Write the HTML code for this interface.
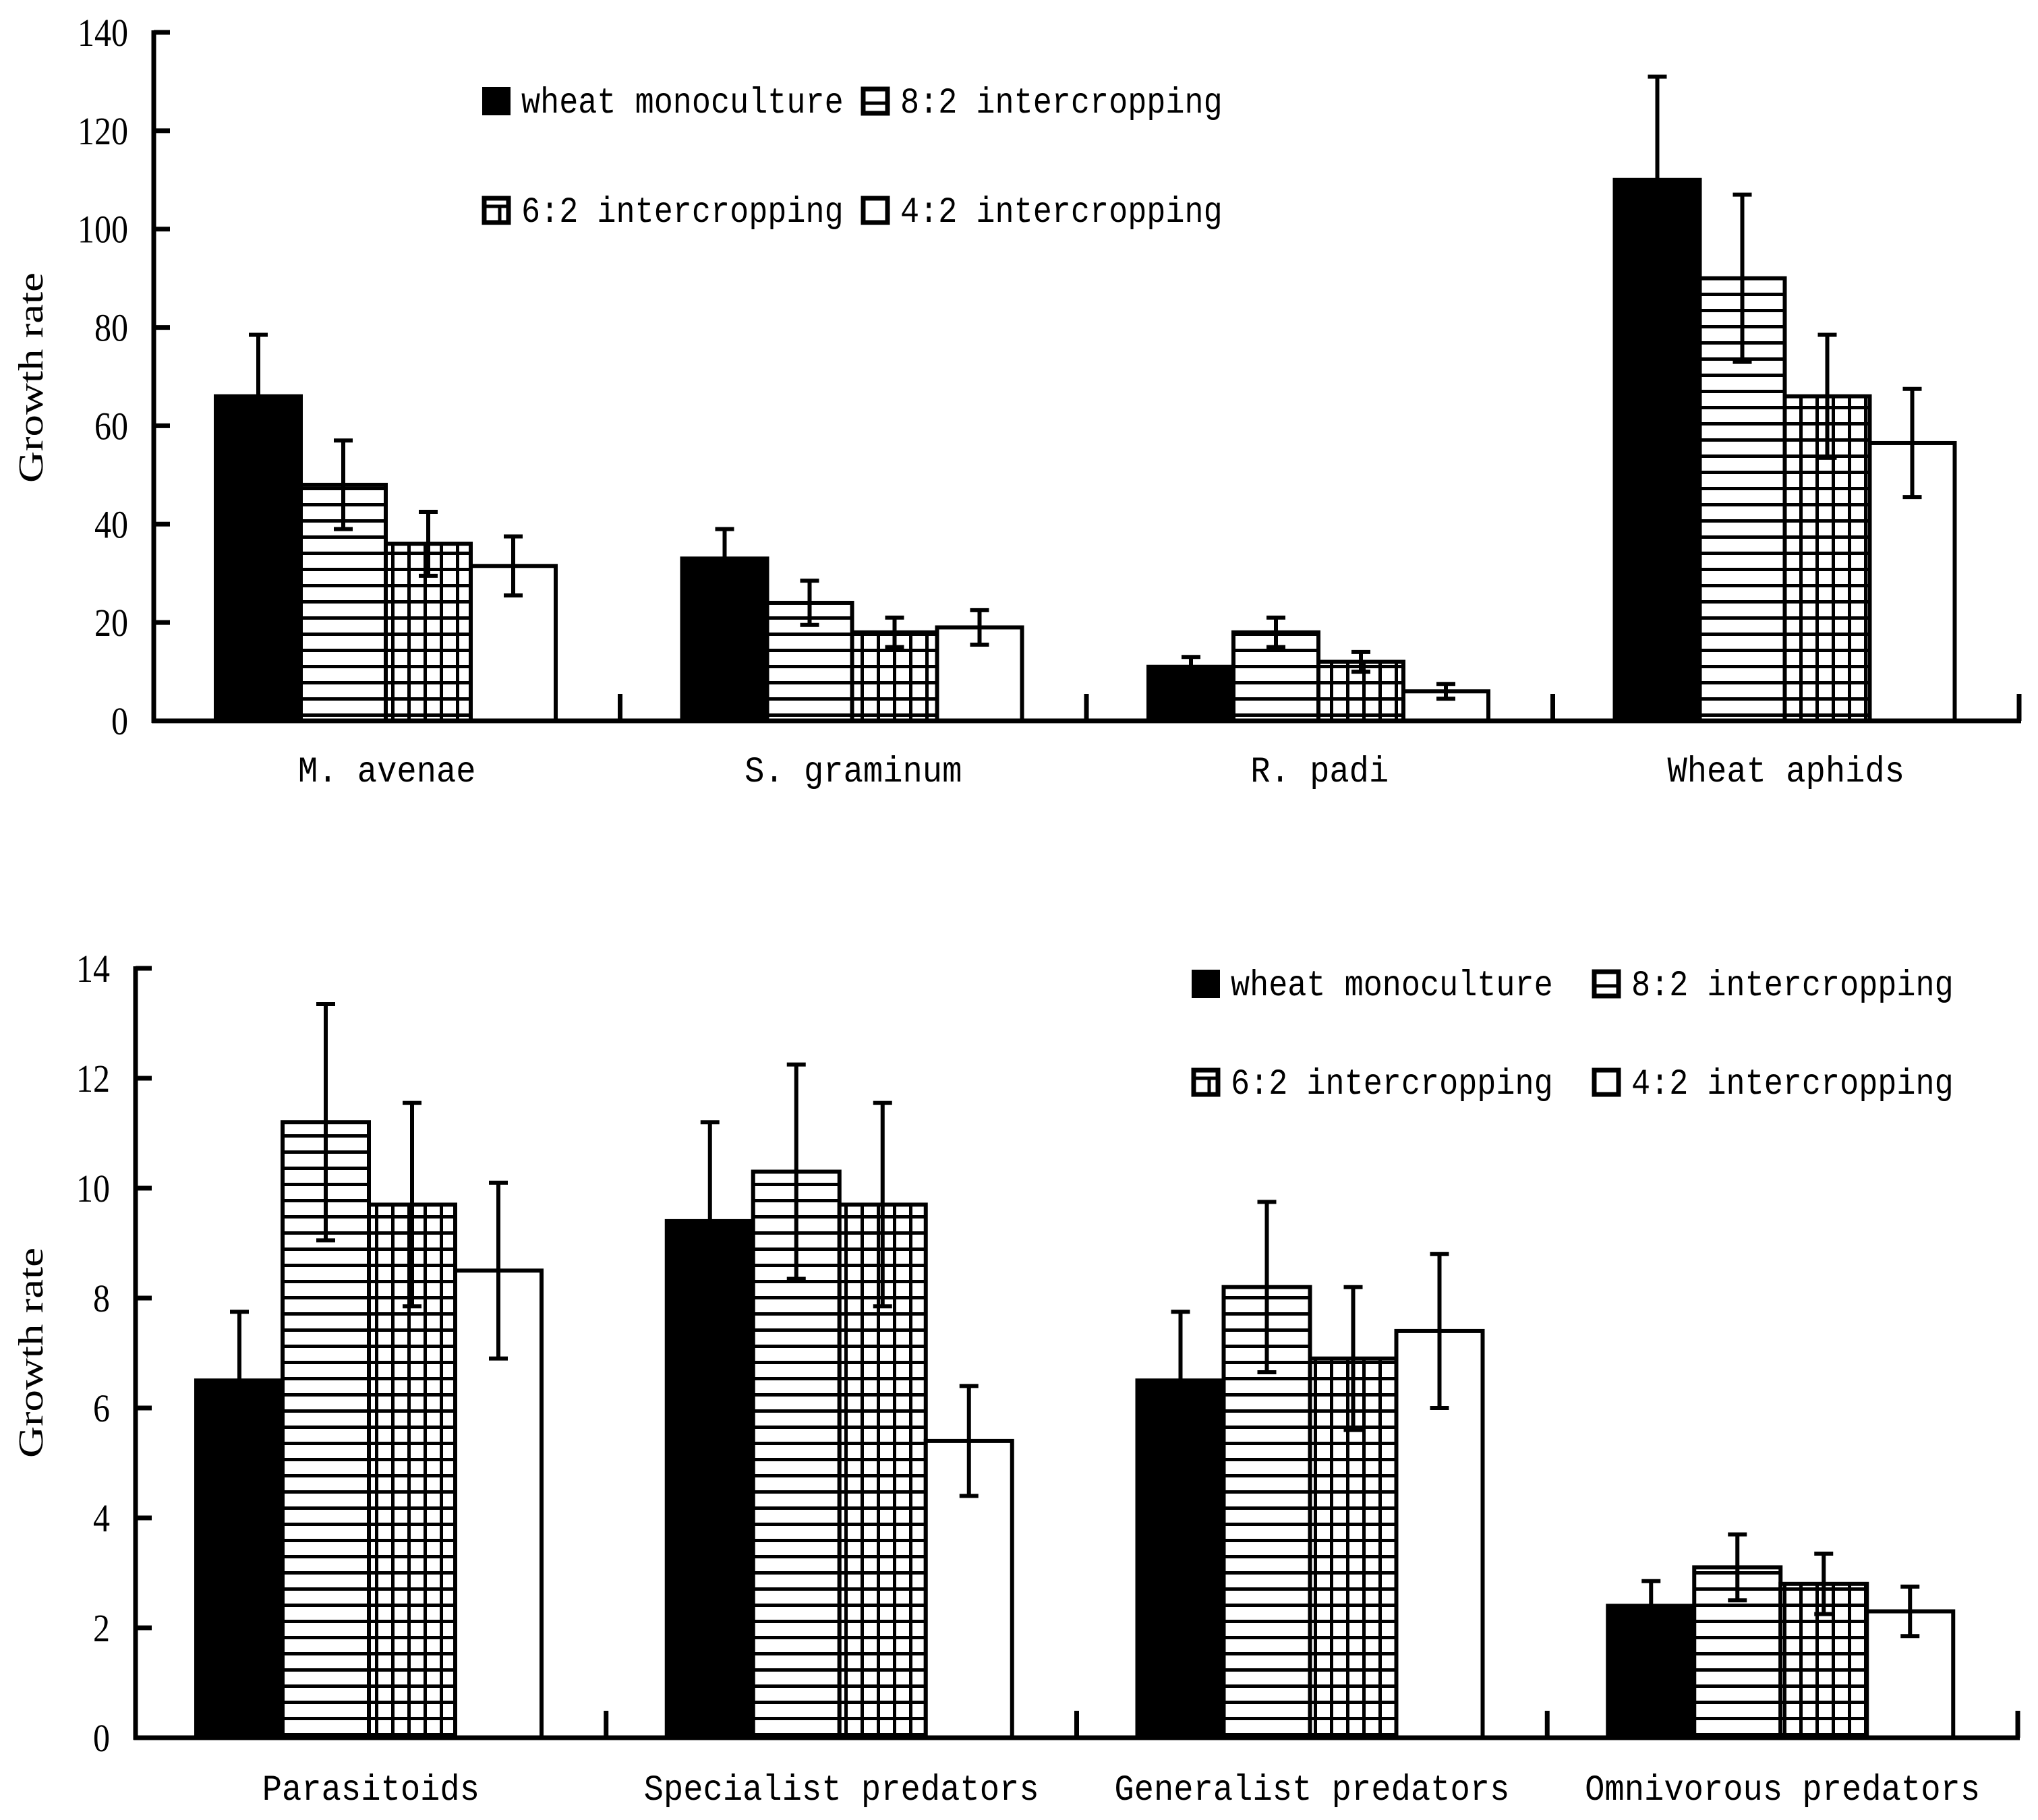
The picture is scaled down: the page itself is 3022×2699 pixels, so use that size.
<!DOCTYPE html>
<html><head><meta charset="utf-8"><style>
html,body{margin:0;padding:0;background:#fff;}
svg{display:block;}
text{font-family:"Liberation Serif","Noto Serif CJK SC",serif;fill:#000;}
.mono{font-family:"Liberation Mono","Noto Sans CJK SC",monospace;}
</style></head><body>
<svg id="chart" width="3022" height="2699" viewBox="0 0 3022 2699" xmlns="http://www.w3.org/2000/svg">
<defs>
<pattern id="hpat" patternUnits="userSpaceOnUse" width="24" height="24" y="2"><rect width="24" height="24" fill="#fff"/><rect y="0" width="24" height="5" fill="#000"/></pattern>
<pattern id="gpat" patternUnits="userSpaceOnUse" width="24" height="24" x="4" y="2"><rect width="24" height="24" fill="#fff"/><rect y="0" width="24" height="5" fill="#000"/><rect x="0" width="5" height="24" fill="#000"/></pattern>
</defs>
<g id="top"></g>
<g id="bottom"></g>
</svg>
<script>
const seriesNames = ["wheat monoculture","8:2 intercropping","6:2 intercropping","4:2 intercropping"];
const topCategories = ["M. avenae","S. graminum","R. padi","Wheat aphids"];
const topMono = [66, 33, 11, 110];
const top82 = [48, 24, 18, 90];
const top62 = [36, 18, 12, 66];
const top42 = [31.5, 19, 6, 56.5];
const topErrMono = [12.5, 6, 2, 21];
const topErr82 = [9, 4.5, 3, 17];
const topErr62 = [6.5, 3, 2, 12.5];
const topErr42 = [6, 3.5, 1.5, 11];
const topTicks = [0,20,40,60,80,100,120,140];

const botCategories = ["Parasitoids","Specialist predators","Generalist predators","Omnivorous predators"];
const botMono = [6.5, 9.4, 6.5, 2.4];
const bot82 = [11.2, 10.3, 8.2, 3.1];
const bot62 = [9.7, 9.7, 6.9, 2.8];
const bot42 = [8.5, 5.4, 7.4, 2.3];
const botErrMono = [1.25, 1.8, 1.25, 0.45];
const botErr82 = [2.15, 1.95, 1.55, 0.6];
const botErr62 = [1.85, 1.85, 1.3, 0.55];
const botErr42 = [1.6, 1.0, 1.4, 0.45];
const botTicks = [0,2,4,6,8,10,12,14];

const NS="http://www.w3.org/2000/svg";
function mk(parent, tag, attrs){const e=document.createElementNS(NS,tag);for(const k in attrs)e.setAttribute(k,attrs[k]);parent.appendChild(e);return e;}
const fills=["#000","url(#hpat)","url(#gpat)","#fff"];

function drawChart(g, cfg){
  const {x0,x1,y0,yTop,vmax,cats,series,errs,ticks,labelY,titleY,legX,legY} = cfg;
  const catW=(x1-x0)/cats.length;
  const yS=v=>y0-(v/vmax)*(y0-yTop);
  const xC=i=>x0+catW*i;
  const bw=cfg.bw, off=cfg.off;
  series.forEach((vals,s)=>{
    vals.forEach((v,i)=>{
      const bx=xC(i)+off+s*bw, by=yS(v);
      const r=mk(g,'rect',{x:bx,y:by,width:bw,height:y0-by,fill:fills[s],stroke:'#000','stroke-width':6});
      
      
    });
  });
  series.forEach((vals,s)=>{
    vals.forEach((v,i)=>{
      const cx=xC(i)+off+s*bw+bw/2, e=errs[s][i];
      const eg=mk(g,'g',{stroke:'#000','stroke-width':6,fill:'none'});
      
      
      mk(eg,'line',{x1:cx,x2:cx,y1:yS(v+e),y2:yS(v-e)});
      mk(eg,'line',{x1:cx-14,x2:cx+14,y1:yS(v+e),y2:yS(v+e)});
      mk(eg,'line',{x1:cx-14,x2:cx+14,y1:yS(v-e),y2:yS(v-e)});
    });
  });
  const ax=mk(g,'g',{stroke:'#000','stroke-width':7,fill:'none'});
  
  
  mk(ax,'line',{x1:x0,x2:x0,y1:yTop-3,y2:y0+3});
  mk(ax,'line',{x1:x0-3,x2:x1+3,y1:y0,y2:y0});
  for(let i=1;i<=cats.length;i++){const tx=xC(i);mk(ax,'line',{x1:tx,x2:tx,y1:y0,y2:y0-40});}
  ticks.forEach(t=>{
    mk(ax,'line',{x1:x0,x2:x0+24,y1:yS(t),y2:yS(t)});
    const s=String(t);
    const tw=s.length*25;
    const tl=mk(g,'text',{x:x0-38-tw,y:yS(t)+20,'font-size':58,textLength:tw,lengthAdjust:'spacingAndGlyphs'});
    tl.textContent=s;
    
    
  });
  cats.forEach((c,i)=>{
    const w=c.length*29.3;
    const t=mk(g,'text',{x:xC(i)+catW/2-w/2,y:labelY+17,'font-size':54,'class':'mono',textLength:w,lengthAdjust:'spacingAndGlyphs'});
    t.textContent=c;
    
    
  });
  const yt=mk(g,'text',{x:0,y:0,'font-size':52,'text-anchor':'middle',transform:`translate(63,${titleY}) rotate(-90)`,textLength:312,lengthAdjust:'spacingAndGlyphs'});
  yt.textContent='Growth rate';
  
  
  const pos=[[0,0],[1,0],[0,1],[1,1]];
  seriesNames.forEach((n,s)=>{
    const lx=legX[pos[s][0]], ly=legY[pos[s][1]];
    const lg=mk(g,'g',{});
    
    
    if(s===0) mk(lg,'rect',{x:lx,y:ly-21,width:42,height:42,fill:'#000'});
    else {
      mk(lg,'rect',{x:lx+3,y:ly-18,width:36,height:36,fill:'#fff',stroke:'#000','stroke-width':7});
      if(s===1) mk(lg,'line',{x1:lx+3,x2:lx+39,y1:ly+3,y2:ly+3,stroke:'#000','stroke-width':5});
      if(s===2){mk(lg,'line',{x1:lx+3,x2:lx+39,y1:ly-6,y2:ly-6,stroke:'#000','stroke-width':5});mk(lg,'line',{x1:lx+26,x2:lx+26,y1:ly-6,y2:ly+18,stroke:'#000','stroke-width':5});}
    }
    const w=n.length*28.1;
    const t=mk(lg,'text',{x:lx+58,y:ly+17,'font-size':54,'class':'mono',textLength:w,lengthAdjust:'spacingAndGlyphs'});
    t.textContent=n;
  });
}

drawChart(document.getElementById('top'),{
  x0:228,x1:2994,y0:1069,yTop:48,vmax:140,cats:topCategories,
  series:[topMono,top82,top62,top42],errs:[topErrMono,topErr82,topErr62,topErr42],
  ticks:topTicks,labelY:1142,titleY:560,legX:[715,1277],legY:[150,312],bw:126,off:92
});
drawChart(document.getElementById('bottom'),{
  x0:201,x1:2992,y0:2577,yTop:1436,vmax:14,cats:botCategories,
  series:[botMono,bot82,bot62,bot42],errs:[botErrMono,botErr82,botErr62,botErr42],
  ticks:botTicks,labelY:2652,titleY:2006,legX:[1767,2361],legY:[1459,1605],bw:128,off:90
});
</script>
</body></html>
